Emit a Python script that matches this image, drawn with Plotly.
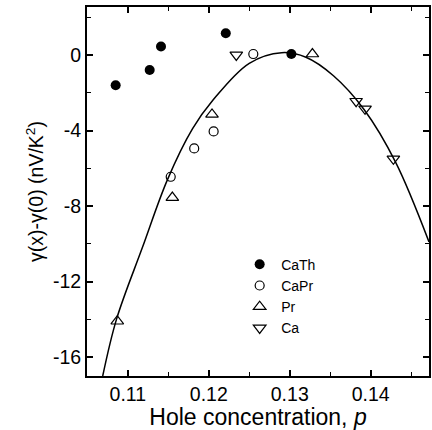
import plotly.graph_objects as go

# Data
cath_p = [0.1085, 0.1127, 0.1141, 0.1221, 0.1302]
cath_g = [-1.6, -0.8, 0.45, 1.15, 0.05]

capr_p = [0.1153, 0.1182, 0.1206, 0.1255]
capr_g = [-6.45, -4.95, -4.05, 0.05]

pr_p = [0.1087, 0.1155, 0.1204, 0.1328]
pr_g = [-14.1, -7.55, -3.15, 0.05]

ca_p = [0.1234, 0.1382, 0.1393, 0.1428]
ca_g = [0.0, -2.45, -2.85, -5.5]

fit_p = [0.1069, 0.1086, 0.1118, 0.1149, 0.1180, 0.1205, 0.1250, 0.1290,
         0.1320, 0.1354, 0.1392, 0.1431, 0.1472]
fit_g = [-17.0, -14.0, -10.2, -6.6, -3.9, -2.4, -0.44, 0.12,
         -0.12, -1.1, -2.9, -5.7, -9.9]

x_ticks = [0.11, 0.12, 0.13, 0.14]
y_ticks = [0, -4, -8, -12, -16]

FONT = "Liberation Sans, Arial, sans-serif"

fig = go.Figure()
fig.add_trace(go.Scatter(x=fit_p, y=fit_g, mode="lines", line=dict(color="black", width=1.5, shape="spline"),
                         showlegend=False, hoverinfo="skip"))
fig.add_trace(go.Scatter(x=cath_p, y=cath_g, mode="markers", name="CaTh",
                         marker=dict(symbol="circle", size=10, color="black")))
fig.add_trace(go.Scatter(x=capr_p, y=capr_g, mode="markers", name="CaPr",
                         marker=dict(symbol="circle-open", size=9, color="black", line=dict(width=1.2))))
fig.add_trace(go.Scatter(x=pr_p, y=pr_g, mode="markers", name="Pr",
                         marker=dict(symbol="triangle-up-open", size=11, color="black", line=dict(width=1.2))))
fig.add_trace(go.Scatter(x=ca_p, y=ca_g, mode="markers", name="Ca",
                         marker=dict(symbol="triangle-down-open", size=11, color="black", line=dict(width=1.2))))

axis_common = dict(showgrid=False, zeroline=False, showline=True, linecolor="black", linewidth=2,
                   mirror="allticks", ticks="inside", tickcolor="black", ticklen=6, tickwidth=1.5,
                   tickfont=dict(family=FONT, size=19.5, color="black"))

fig.update_xaxes(range=[0.10496, 0.1472], tickvals=x_ticks, ticktext=[f"{v:.2f}" for v in x_ticks],
                 minor=dict(dtick=0.005, tick0=0.105, ticks="inside", ticklen=4, tickcolor="black", tickwidth=1.2),
                 title=dict(text="Hole concentration, <i>p</i>", font=dict(family=FONT, size=23, color="black"),
                            standoff=3),
                 **axis_common)
fig.update_yaxes(range=[-17.0, 2.54], tickvals=y_ticks, ticktext=[str(v) for v in y_ticks],
                 minor=dict(dtick=2, tick0=0, ticks="inside", ticklen=4, tickcolor="black", tickwidth=1.2),
                 title=dict(text="γ(x)-γ(0) (nV/K<sup>2</sup>)", font=dict(family=FONT, size=19.5, color="black"),
                            standoff=4),
                 **axis_common)

fig.update_layout(
    width=432, height=430,
    margin=dict(l=87, r=1, t=7, b=54),
    paper_bgcolor="white", plot_bgcolor="white",
    legend=dict(x=0.442, y=0.345, xanchor="left", yanchor="top", bgcolor="rgba(0,0,0,0)",
                font=dict(family=FONT, size=14, color="black"), tracegroupgap=0, itemsizing="trace",
                itemwidth=33),
    showlegend=True,
)

fig.write_html("out.html")
